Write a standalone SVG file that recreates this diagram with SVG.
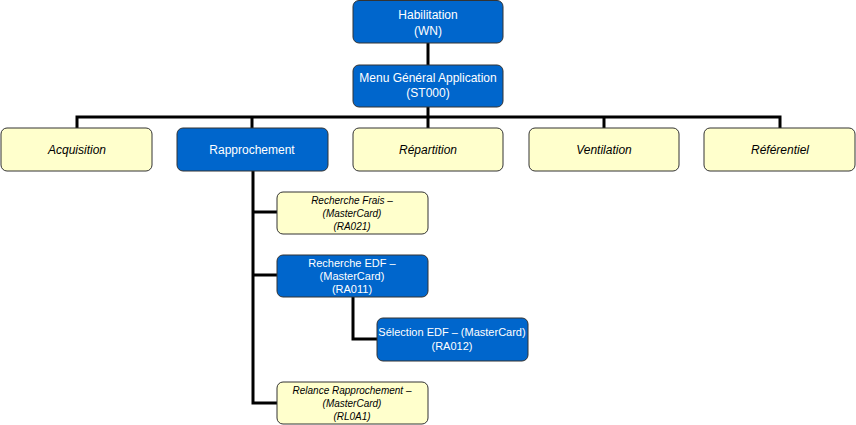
<svg xmlns="http://www.w3.org/2000/svg" width="856" height="425" viewBox="0 0 856 425">
<style>
.b{fill:#0066CC;stroke:#333333;stroke-width:1}
.y{fill:#FFFFCC;stroke:#333333;stroke-width:1}
.tw{fill:#FFFFFF;font-family:"Liberation Sans",Arial,sans-serif;font-size:12px;text-anchor:middle}
.tk{fill:#000000;font-family:"Liberation Sans",Arial,sans-serif;font-size:12px;font-style:italic;text-anchor:middle}
.sw{fill:#FFFFFF;font-family:"Liberation Sans",Arial,sans-serif;font-size:11px;text-anchor:middle}
.sk{fill:#000000;font-family:"Liberation Sans",Arial,sans-serif;font-size:10px;font-style:italic;text-anchor:middle}
.c{fill:none;stroke:#000000;stroke-width:3}
</style>
<rect width="856" height="425" fill="#FFFFFF"/>
<g id="connectors">
<path class="c" d="M428,43 V65"/>
<path class="c" d="M428,107 V128"/>
<path class="c" d="M77,128 V117 H780 V128"/>
<path class="c" d="M252,117 V128"/>
<path class="c" d="M604,117 V128"/>
<path class="c" d="M253,171 V403 H277"/>
<path class="c" d="M253,212 H277"/>
<path class="c" d="M253,275 H277"/>
<path class="c" d="M353,297 V339 H377"/>
</g>
<g id="habilitation">
<rect class="b" x="353" y="0.5" width="150" height="42.5" rx="6"/>
<text class="tw" x="428" y="19">Habilitation</text>
<text class="tw" x="428" y="35">(WN)</text>
</g>
<g id="menu">
<rect class="b" x="353" y="65" width="150" height="42" rx="6"/>
<text class="tw" x="428" y="82">Menu Général Application</text>
<text class="tw" x="428" y="97">(ST000)</text>
</g>
<g id="acquisition">
<rect class="y" x="1" y="128" width="151" height="43" rx="6"/>
<text class="tk" x="77" y="154">Acquisition</text>
</g>
<g id="rapprochement">
<rect class="b" x="177" y="128" width="151" height="43" rx="6"/>
<text class="tw" x="252" y="154">Rapprochement</text>
</g>
<g id="repartition">
<rect class="y" x="353" y="128" width="150" height="43" rx="6"/>
<text class="tk" x="428" y="154">Répartition</text>
</g>
<g id="ventilation">
<rect class="y" x="529" y="128" width="150" height="43" rx="6"/>
<text class="tk" x="604" y="154">Ventilation</text>
</g>
<g id="referentiel">
<rect class="y" x="704" y="128" width="151" height="43" rx="6"/>
<text class="tk" x="780" y="154">Référentiel</text>
</g>
<g id="recherche-frais">
<rect class="y" x="277" y="192" width="151" height="42" rx="6"/>
<text class="sk" x="352" y="204">Recherche Frais –</text>
<text class="sk" x="352" y="217">(MasterCard)</text>
<text class="sk" x="352" y="230">(RA021)</text>
</g>
<g id="recherche-edf">
<rect class="b" x="277" y="255" width="151" height="42" rx="6"/>
<text class="sw" x="352" y="267">Recherche EDF –</text>
<text class="sw" x="352" y="280">(MasterCard)</text>
<text class="sw" x="352" y="293">(RA011)</text>
</g>
<g id="selection-edf">
<rect class="b" x="377" y="318" width="151" height="43" rx="6"/>
<text class="sw" x="452" y="336">Sélection EDF – (MasterCard)</text>
<text class="sw" x="452" y="350">(RA012)</text>
</g>
<g id="relance">
<rect class="y" x="277" y="382" width="151" height="42" rx="6"/>
<text class="sk" x="352" y="394">Relance Rapprochement –</text>
<text class="sk" x="352" y="407">(MasterCard)</text>
<text class="sk" x="352" y="420">(RL0A1)</text>
</g>
</svg>
